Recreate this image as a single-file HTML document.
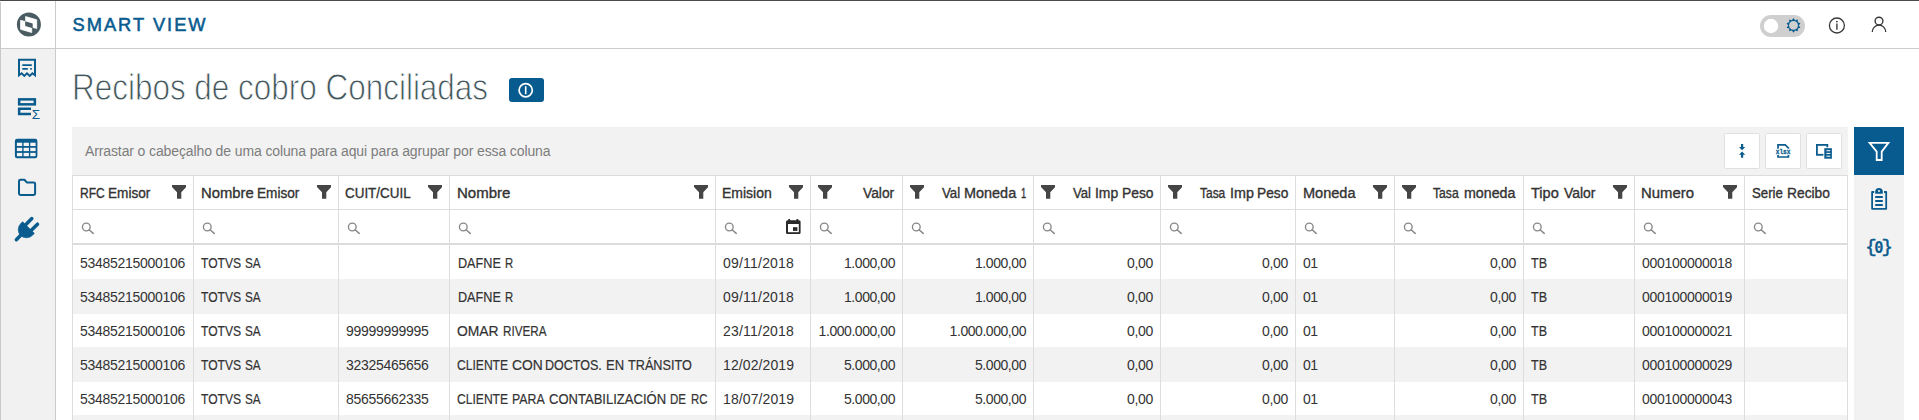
<!DOCTYPE html>
<html lang="pt">
<head>
<meta charset="utf-8">
<title>Smart View</title>
<style>
*{box-sizing:border-box;margin:0;padding:0}
html,body{width:1919px;height:420px;overflow:hidden;background:#fff}
body{position:relative;font-family:"Liberation Sans",sans-serif;color:#333}
.abs{position:absolute}
svg{display:block}
#topline{left:0;top:0;width:1919px;height:1px;background:#484b4b}
#leftline{left:0;top:2px;width:1px;height:418px;background:#c8c8c8}
#side{left:1px;top:49px;width:54px;height:371px;background:#f1f1f1}
#sideborder{left:55px;top:1px;width:1px;height:419px;background:#cbcbcb}
#hdrborder{left:1px;top:48px;width:1918px;height:1px;background:#cbcbcb}
#brand{left:72.5px;top:15.2px;font-size:18.3px;line-height:20px;letter-spacing:2px;color:#075b8f;-webkit-text-stroke:0.55px #075b8f;white-space:nowrap}
#title{left:71.5px;top:67.6px;font-size:36px;line-height:40px;color:#42565c;white-space:nowrap;transform-origin:0 0;transform:scaleX(0.8736);-webkit-text-stroke:0.9px #fff}
#badge{left:509px;top:78px;width:35px;height:24px;border-radius:3px;background:#075b8f}
#grouppanel{left:72px;top:127px;width:1776px;height:48px;background:#f2f2f2}
#grouptext{left:85px;top:143px;font-size:14px;line-height:16px;color:#7d7d7d;white-space:nowrap;letter-spacing:-0.117px}
.tbtn{top:133px;width:36px;height:36px;background:#fff;border:1px solid #e0e0e0;border-radius:1.5px}
#rside{left:1854px;top:127px;width:50px;height:293px;background:#f2f2f2}
#rbtn{left:1854px;top:127px;width:50px;height:48px;background:#075b8f}
#grid{left:72px;top:175px;width:1776px;height:245px;font-size:14px;border-right:1px solid #ddd;overflow:hidden}
.row{position:absolute;left:0;width:1776px}
.hdr{border-top:1px solid #ddd;border-bottom:1px solid #ddd}
.cell{position:absolute;top:0;height:100%;border-left:1px solid #ddd;white-space:nowrap;overflow:hidden;padding:0 7px}
.alt{background:#f2f2f2}
.hdr .cell{line-height:35px;color:#333;-webkit-text-stroke:0.35px #333}
.hr{text-align:right}
.fl{position:absolute;right:7px;top:9.1px}
.fr{position:absolute;left:6.5px;top:9.1px}
.dr .cell{line-height:34px;padding-top:1px}
.dr{color:#333}
.dr .dr{text-align:right}
.w{position:absolute;top:1px;transform-origin:0 50%;white-space:pre;-webkit-text-stroke:0.2px #333}
.hdr .w{-webkit-text-stroke:0.35px #333}
.mg{position:absolute;left:8px;top:12px}
.cal{position:absolute;left:70px;top:8.8px}
</style>
</head>
<body>
<div id="topline" class="abs"></div>
<div id="leftline" class="abs"></div>
<div id="side" class="abs"></div>
<div id="sideborder" class="abs"></div>
<div id="hdrborder" class="abs"></div>
<div id="brand" class="abs">SMART VIEW</div>
<div id="title" class="abs">Recibos de cobro Conciliadas</div>
<div id="badge" class="abs"></div>
<div id="grouppanel" class="abs"></div>
<div id="grouptext" class="abs">Arrastar o cabeçalho de uma coluna para aqui para agrupar por essa coluna</div>
<div class="abs tbtn" style="left:1724px"></div>
<div class="abs tbtn" style="left:1765px"></div>
<div class="abs tbtn" style="left:1806px"></div>
<div id="rside" class="abs"></div>
<div id="rbtn" class="abs"></div>
<div id="grid" class="abs">
<div class="row hdr" style="top:0;height:35px">
<div class="cell hl" style="left:0px;width:121px"><span class="fl"><svg class="fi" viewBox="0 0 14.3 13.7" width="14.3" height="13.7"><path d="M0 0H14.3V2L9.3 7.2V13.7H5V7.2L0 2Z" fill="#454545"/></svg></span><span class="w ht" style="top:0;left:6.73px;transform:scaleX(0.8605)">RFC </span><span class="w ht" style="top:0;left:35.01px;transform:scaleX(0.973)">Emisor</span></div>
<div class="cell hl" style="left:121px;width:145px"><span class="fl"><svg class="fi" viewBox="0 0 14.3 13.7" width="14.3" height="13.7"><path d="M0 0H14.3V2L9.3 7.2V13.7H5V7.2L0 2Z" fill="#454545"/></svg></span><span class="w ht" style="top:0;left:6.62px;transform:scaleX(1.0586)">Nombre </span><span class="w ht" style="top:0;left:63.01px;transform:scaleX(0.973)">Emisor</span></div>
<div class="cell hl" style="left:266px;width:111px"><span class="fl"><svg class="fi" viewBox="0 0 14.3 13.7" width="14.3" height="13.7"><path d="M0 0H14.3V2L9.3 7.2V13.7H5V7.2L0 2Z" fill="#454545"/></svg></span><span class="w ht" style="top:0;left:6.30px;transform:scaleX(0.9586)">CUIT/CUIL</span></div>
<div class="cell hl" style="left:377px;width:266px"><span class="fl"><svg class="fi" viewBox="0 0 14.3 13.7" width="14.3" height="13.7"><path d="M0 0H14.3V2L9.3 7.2V13.7H5V7.2L0 2Z" fill="#454545"/></svg></span><span class="w ht" style="top:0;left:6.60px;transform:scaleX(1.071)">Nombre</span></div>
<div class="cell hl" style="left:643px;width:95px"><span class="fl"><svg class="fi" viewBox="0 0 14.3 13.7" width="14.3" height="13.7"><path d="M0 0H14.3V2L9.3 7.2V13.7H5V7.2L0 2Z" fill="#454545"/></svg></span><span class="w ht" style="top:0;left:6.33px;transform:scaleX(0.9997)">Emision</span></div>
<div class="cell hr" style="left:738px;width:92px"><span class="fr"><svg class="fi" viewBox="0 0 14.3 13.7" width="14.3" height="13.7"><path d="M0 0H14.3V2L9.3 7.2V13.7H5V7.2L0 2Z" fill="#454545"/></svg></span><span class="w ht" style="top:0;left:52.17px;transform:scaleX(0.9865)">Valor</span></div>
<div class="cell hr" style="left:830px;width:131px"><span class="fr"><svg class="fi" viewBox="0 0 14.3 13.7" width="14.3" height="13.7"><path d="M0 0H14.3V2L9.3 7.2V13.7H5V7.2L0 2Z" fill="#454545"/></svg></span><span class="w ht" style="top:0;left:38.67px;transform:scaleX(0.944)">Val </span><span class="w ht" style="top:0;left:60.80px;transform:scaleX(1.0315)">Moneda </span><span class="w ht" style="top:0;left:117.59px;transform:scaleX(0.67)">1</span></div>
<div class="cell hr" style="left:961px;width:127px"><span class="fr"><svg class="fi" viewBox="0 0 14.3 13.7" width="14.3" height="13.7"><path d="M0 0H14.3V2L9.3 7.2V13.7H5V7.2L0 2Z" fill="#454545"/></svg></span><span class="w ht" style="top:0;left:39.08px;transform:scaleX(0.9386)">Val </span><span class="w ht" style="top:0;left:60.69px;transform:scaleX(0.9942)">Imp </span><span class="w ht" style="top:0;left:87.59px;transform:scaleX(0.9885)">Peso</span></div>
<div class="cell hr" style="left:1088px;width:135px"><span class="fr"><svg class="fi" viewBox="0 0 14.3 13.7" width="14.3" height="13.7"><path d="M0 0H14.3V2L9.3 7.2V13.7H5V7.2L0 2Z" fill="#454545"/></svg></span><span class="w ht" style="top:0;left:38.74px;transform:scaleX(0.8542)">Tasa </span><span class="w ht" style="top:0;left:68.66px;transform:scaleX(1.0218)">Imp </span><span class="w ht" style="top:0;left:96.20px;transform:scaleX(0.9802)">Peso</span></div>
<div class="cell hl" style="left:1223px;width:99px"><span class="fl"><svg class="fi" viewBox="0 0 14.3 13.7" width="14.3" height="13.7"><path d="M0 0H14.3V2L9.3 7.2V13.7H5V7.2L0 2Z" fill="#454545"/></svg></span><span class="w ht" style="top:0;left:6.79px;transform:scaleX(1.0386)">Moneda</span></div>
<div class="cell hr" style="left:1322px;width:129px"><span class="fr"><svg class="fi" viewBox="0 0 14.3 13.7" width="14.3" height="13.7"><path d="M0 0H14.3V2L9.3 7.2V13.7H5V7.2L0 2Z" fill="#454545"/></svg></span><span class="w ht" style="top:0;left:38.09px;transform:scaleX(0.8678)">Tasa </span><span class="w ht" style="top:0;left:68.89px;transform:scaleX(1.0169)">moneda</span></div>
<div class="cell hl" style="left:1451px;width:111px"><span class="fl"><svg class="fi" viewBox="0 0 14.3 13.7" width="14.3" height="13.7"><path d="M0 0H14.3V2L9.3 7.2V13.7H5V7.2L0 2Z" fill="#454545"/></svg></span><span class="w ht" style="top:0;left:7.20px;transform:scaleX(1.0375)">Tipo </span><span class="w ht" style="top:0;left:39.67px;transform:scaleX(0.9945)">Valor</span></div>
<div class="cell hl" style="left:1562px;width:110px"><span class="fl"><svg class="fi" viewBox="0 0 14.3 13.7" width="14.3" height="13.7"><path d="M0 0H14.3V2L9.3 7.2V13.7H5V7.2L0 2Z" fill="#454545"/></svg></span><span class="w ht" style="top:0;left:5.91px;transform:scaleX(1.0627)">Numero</span></div>
<div class="cell hl" style="left:1672px;width:103px"><span class="w ht" style="top:0;left:7.26px;transform:scaleX(0.9439)">Serie </span><span class="w ht" style="top:0;left:42.20px;transform:scaleX(0.9853)">Recibo</span></div>
</div>
<div class="row flt" style="top:35px;height:33px">
<div class="cell" style="left:0px;width:121px"><svg class="mg" viewBox="0 0 14 13" width="14" height="13"><circle cx="5.3" cy="5" r="3.85" fill="none" stroke="#878787" stroke-width="1.35"/><path d="M8.1 7.8L12.2 11.4" stroke="#878787" stroke-width="1.45" stroke-linecap="round"/></svg></div>
<div class="cell" style="left:121px;width:145px"><svg class="mg" viewBox="0 0 14 13" width="14" height="13"><circle cx="5.3" cy="5" r="3.85" fill="none" stroke="#878787" stroke-width="1.35"/><path d="M8.1 7.8L12.2 11.4" stroke="#878787" stroke-width="1.45" stroke-linecap="round"/></svg></div>
<div class="cell" style="left:266px;width:111px"><svg class="mg" viewBox="0 0 14 13" width="14" height="13"><circle cx="5.3" cy="5" r="3.85" fill="none" stroke="#878787" stroke-width="1.35"/><path d="M8.1 7.8L12.2 11.4" stroke="#878787" stroke-width="1.45" stroke-linecap="round"/></svg></div>
<div class="cell" style="left:377px;width:266px"><svg class="mg" viewBox="0 0 14 13" width="14" height="13"><circle cx="5.3" cy="5" r="3.85" fill="none" stroke="#878787" stroke-width="1.35"/><path d="M8.1 7.8L12.2 11.4" stroke="#878787" stroke-width="1.45" stroke-linecap="round"/></svg></div>
<div class="cell" style="left:643px;width:95px"><svg class="mg" viewBox="0 0 14 13" width="14" height="13"><circle cx="5.3" cy="5" r="3.85" fill="none" stroke="#878787" stroke-width="1.35"/><path d="M8.1 7.8L12.2 11.4" stroke="#878787" stroke-width="1.45" stroke-linecap="round"/></svg><svg class="cal" viewBox="0 0 15 15" width="15" height="15"><rect x="0" y="1.2" width="14.6" height="13.8" rx="1.6" fill="#2a2a2a"/><rect x="2.3" y="0" width="1.8" height="2" fill="#2a2a2a"/><rect x="10.5" y="0" width="1.8" height="2" fill="#2a2a2a"/><rect x="2" y="5" width="10.8" height="8.2" fill="#fff"/><rect x="7" y="8.2" width="4.4" height="3.7" fill="#2a2a2a"/></svg></div>
<div class="cell" style="left:738px;width:92px"><svg class="mg" viewBox="0 0 14 13" width="14" height="13"><circle cx="5.3" cy="5" r="3.85" fill="none" stroke="#878787" stroke-width="1.35"/><path d="M8.1 7.8L12.2 11.4" stroke="#878787" stroke-width="1.45" stroke-linecap="round"/></svg></div>
<div class="cell" style="left:830px;width:131px"><svg class="mg" viewBox="0 0 14 13" width="14" height="13"><circle cx="5.3" cy="5" r="3.85" fill="none" stroke="#878787" stroke-width="1.35"/><path d="M8.1 7.8L12.2 11.4" stroke="#878787" stroke-width="1.45" stroke-linecap="round"/></svg></div>
<div class="cell" style="left:961px;width:127px"><svg class="mg" viewBox="0 0 14 13" width="14" height="13"><circle cx="5.3" cy="5" r="3.85" fill="none" stroke="#878787" stroke-width="1.35"/><path d="M8.1 7.8L12.2 11.4" stroke="#878787" stroke-width="1.45" stroke-linecap="round"/></svg></div>
<div class="cell" style="left:1088px;width:135px"><svg class="mg" viewBox="0 0 14 13" width="14" height="13"><circle cx="5.3" cy="5" r="3.85" fill="none" stroke="#878787" stroke-width="1.35"/><path d="M8.1 7.8L12.2 11.4" stroke="#878787" stroke-width="1.45" stroke-linecap="round"/></svg></div>
<div class="cell" style="left:1223px;width:99px"><svg class="mg" viewBox="0 0 14 13" width="14" height="13"><circle cx="5.3" cy="5" r="3.85" fill="none" stroke="#878787" stroke-width="1.35"/><path d="M8.1 7.8L12.2 11.4" stroke="#878787" stroke-width="1.45" stroke-linecap="round"/></svg></div>
<div class="cell" style="left:1322px;width:129px"><svg class="mg" viewBox="0 0 14 13" width="14" height="13"><circle cx="5.3" cy="5" r="3.85" fill="none" stroke="#878787" stroke-width="1.35"/><path d="M8.1 7.8L12.2 11.4" stroke="#878787" stroke-width="1.45" stroke-linecap="round"/></svg></div>
<div class="cell" style="left:1451px;width:111px"><svg class="mg" viewBox="0 0 14 13" width="14" height="13"><circle cx="5.3" cy="5" r="3.85" fill="none" stroke="#878787" stroke-width="1.35"/><path d="M8.1 7.8L12.2 11.4" stroke="#878787" stroke-width="1.45" stroke-linecap="round"/></svg></div>
<div class="cell" style="left:1562px;width:110px"><svg class="mg" viewBox="0 0 14 13" width="14" height="13"><circle cx="5.3" cy="5" r="3.85" fill="none" stroke="#878787" stroke-width="1.35"/><path d="M8.1 7.8L12.2 11.4" stroke="#878787" stroke-width="1.45" stroke-linecap="round"/></svg></div>
<div class="cell" style="left:1672px;width:103px"><svg class="mg" viewBox="0 0 14 13" width="14" height="13"><circle cx="5.3" cy="5" r="3.85" fill="none" stroke="#878787" stroke-width="1.35"/><path d="M8.1 7.8L12.2 11.4" stroke="#878787" stroke-width="1.45" stroke-linecap="round"/></svg></div>
</div>
<div class="row" style="top:68px;height:2px;background:#dcdcdc"></div>
<div class="row dr" style="top:70px;height:34px">
<div class="cell dl" style="left:0px;width:121px"><span style="letter-spacing:-0.280px">53485215000106</span></div>
<div class="cell dl" style="left:121px;width:145px"><span class="w" style="left:7.21px;transform:scaleX(0.8628)">TOTVS </span><span class="w" style="left:51.23px;transform:scaleX(0.8358)">SA</span></div>
<div class="cell dl" style="left:266px;width:111px"><span></span></div>
<div class="cell dl" style="left:377px;width:266px"><span class="w" style="left:7.51px;transform:scaleX(0.9024)">DAFNE </span><span class="w" style="left:54.62px;transform:scaleX(0.8088)">R</span></div>
<div class="cell dl" style="left:643px;width:95px"><span style="letter-spacing:0.207px">09/11/2018</span></div>
<div class="cell dr" style="left:738px;width:92px"><span style="letter-spacing:-0.438px">1.000,00</span></div>
<div class="cell dr" style="left:830px;width:131px"><span style="letter-spacing:-0.438px">1.000,00</span></div>
<div class="cell dr" style="left:961px;width:127px"><span style="letter-spacing:-0.338px">0,00</span></div>
<div class="cell dr" style="left:1088px;width:135px"><span style="letter-spacing:-0.338px">0,00</span></div>
<div class="cell dl" style="left:1223px;width:99px"><span style="letter-spacing:-0.589px">01</span></div>
<div class="cell dr" style="left:1322px;width:129px"><span style="letter-spacing:-0.338px">0,00</span></div>
<div class="cell dl" style="left:1451px;width:111px"><span class="w" style="left:6.60px;transform:scaleX(0.8956)">TB</span></div>
<div class="cell dl" style="left:1562px;width:110px"><span style="letter-spacing:-0.286px">000100000018</span></div>
<div class="cell dl" style="left:1672px;width:103px"><span></span></div>
</div>
<div class="row dr alt" style="top:104px;height:35px">
<div class="cell dl" style="left:0px;width:121px"><span style="letter-spacing:-0.280px">53485215000106</span></div>
<div class="cell dl" style="left:121px;width:145px"><span class="w" style="left:7.21px;transform:scaleX(0.8628)">TOTVS </span><span class="w" style="left:51.23px;transform:scaleX(0.8358)">SA</span></div>
<div class="cell dl" style="left:266px;width:111px"><span></span></div>
<div class="cell dl" style="left:377px;width:266px"><span class="w" style="left:7.51px;transform:scaleX(0.9024)">DAFNE </span><span class="w" style="left:54.62px;transform:scaleX(0.8088)">R</span></div>
<div class="cell dl" style="left:643px;width:95px"><span style="letter-spacing:0.207px">09/11/2018</span></div>
<div class="cell dr" style="left:738px;width:92px"><span style="letter-spacing:-0.438px">1.000,00</span></div>
<div class="cell dr" style="left:830px;width:131px"><span style="letter-spacing:-0.438px">1.000,00</span></div>
<div class="cell dr" style="left:961px;width:127px"><span style="letter-spacing:-0.338px">0,00</span></div>
<div class="cell dr" style="left:1088px;width:135px"><span style="letter-spacing:-0.338px">0,00</span></div>
<div class="cell dl" style="left:1223px;width:99px"><span style="letter-spacing:-0.589px">01</span></div>
<div class="cell dr" style="left:1322px;width:129px"><span style="letter-spacing:-0.338px">0,00</span></div>
<div class="cell dl" style="left:1451px;width:111px"><span class="w" style="left:6.60px;transform:scaleX(0.8956)">TB</span></div>
<div class="cell dl" style="left:1562px;width:110px"><span style="letter-spacing:-0.286px">000100000019</span></div>
<div class="cell dl" style="left:1672px;width:103px"><span></span></div>
</div>
<div class="row dr" style="top:138px;height:34px">
<div class="cell dl" style="left:0px;width:121px"><span style="letter-spacing:-0.280px">53485215000106</span></div>
<div class="cell dl" style="left:121px;width:145px"><span class="w" style="left:7.21px;transform:scaleX(0.8628)">TOTVS </span><span class="w" style="left:51.23px;transform:scaleX(0.8358)">SA</span></div>
<div class="cell dl" style="left:266px;width:111px"><span style="letter-spacing:-0.291px">99999999995</span></div>
<div class="cell dl" style="left:377px;width:266px"><span class="w" style="left:7.35px;transform:scaleX(0.9912)">OMAR </span><span class="w" style="left:52.99px;transform:scaleX(0.8337)">RIVERA</span></div>
<div class="cell dl" style="left:643px;width:95px"><span style="letter-spacing:0.207px">23/11/2018</span></div>
<div class="cell dr" style="left:738px;width:92px"><span style="letter-spacing:-0.446px">1.000.000,00</span></div>
<div class="cell dr" style="left:830px;width:131px"><span style="letter-spacing:-0.446px">1.000.000,00</span></div>
<div class="cell dr" style="left:961px;width:127px"><span style="letter-spacing:-0.338px">0,00</span></div>
<div class="cell dr" style="left:1088px;width:135px"><span style="letter-spacing:-0.338px">0,00</span></div>
<div class="cell dl" style="left:1223px;width:99px"><span style="letter-spacing:-0.589px">01</span></div>
<div class="cell dr" style="left:1322px;width:129px"><span style="letter-spacing:-0.338px">0,00</span></div>
<div class="cell dl" style="left:1451px;width:111px"><span class="w" style="left:6.60px;transform:scaleX(0.8956)">TB</span></div>
<div class="cell dl" style="left:1562px;width:110px"><span style="letter-spacing:-0.286px">000100000021</span></div>
<div class="cell dl" style="left:1672px;width:103px"><span></span></div>
</div>
<div class="row dr alt" style="top:172px;height:35px">
<div class="cell dl" style="left:0px;width:121px"><span style="letter-spacing:-0.280px">53485215000106</span></div>
<div class="cell dl" style="left:121px;width:145px"><span class="w" style="left:7.21px;transform:scaleX(0.8628)">TOTVS </span><span class="w" style="left:51.23px;transform:scaleX(0.8358)">SA</span></div>
<div class="cell dl" style="left:266px;width:111px"><span style="letter-spacing:-0.291px">32325465656</span></div>
<div class="cell dl" style="left:377px;width:266px"><span class="w" style="left:7.33px;transform:scaleX(0.8639)">CLIENTE </span><span class="w" style="left:61.75px;transform:scaleX(0.9893)">CON </span><span class="w" style="left:95.02px;transform:scaleX(0.8943)">DOCTOS. </span><span class="w" style="left:155.88px;transform:scaleX(0.9295)">EN </span><span class="w" style="left:177.70px;transform:scaleX(0.9053)">TRÁNSITO</span></div>
<div class="cell dl" style="left:643px;width:95px"><span style="letter-spacing:0.102px">12/02/2019</span></div>
<div class="cell dr" style="left:738px;width:92px"><span style="letter-spacing:-0.438px">5.000,00</span></div>
<div class="cell dr" style="left:830px;width:131px"><span style="letter-spacing:-0.438px">5.000,00</span></div>
<div class="cell dr" style="left:961px;width:127px"><span style="letter-spacing:-0.338px">0,00</span></div>
<div class="cell dr" style="left:1088px;width:135px"><span style="letter-spacing:-0.338px">0,00</span></div>
<div class="cell dl" style="left:1223px;width:99px"><span style="letter-spacing:-0.589px">01</span></div>
<div class="cell dr" style="left:1322px;width:129px"><span style="letter-spacing:-0.338px">0,00</span></div>
<div class="cell dl" style="left:1451px;width:111px"><span class="w" style="left:6.60px;transform:scaleX(0.8956)">TB</span></div>
<div class="cell dl" style="left:1562px;width:110px"><span style="letter-spacing:-0.286px">000100000029</span></div>
<div class="cell dl" style="left:1672px;width:103px"><span></span></div>
</div>
<div class="row dr" style="top:206px;height:34px">
<div class="cell dl" style="left:0px;width:121px"><span style="letter-spacing:-0.280px">53485215000106</span></div>
<div class="cell dl" style="left:121px;width:145px"><span class="w" style="left:7.21px;transform:scaleX(0.8628)">TOTVS </span><span class="w" style="left:51.23px;transform:scaleX(0.8358)">SA</span></div>
<div class="cell dl" style="left:266px;width:111px"><span style="letter-spacing:-0.291px">85655662335</span></div>
<div class="cell dl" style="left:377px;width:266px"><span class="w" style="left:7.33px;transform:scaleX(0.8639)">CLIENTE </span><span class="w" style="left:61.94px;transform:scaleX(0.8819)">PARA </span><span class="w" style="left:98.99px;transform:scaleX(0.931)">CONTABILIZACIÓN </span><span class="w" style="left:220.20px;transform:scaleX(0.8218)">DE </span><span class="w" style="left:241.01px;transform:scaleX(0.8154)">RC</span></div>
<div class="cell dl" style="left:643px;width:95px"><span style="letter-spacing:0.102px">18/07/2019</span></div>
<div class="cell dr" style="left:738px;width:92px"><span style="letter-spacing:-0.438px">5.000,00</span></div>
<div class="cell dr" style="left:830px;width:131px"><span style="letter-spacing:-0.438px">5.000,00</span></div>
<div class="cell dr" style="left:961px;width:127px"><span style="letter-spacing:-0.338px">0,00</span></div>
<div class="cell dr" style="left:1088px;width:135px"><span style="letter-spacing:-0.338px">0,00</span></div>
<div class="cell dl" style="left:1223px;width:99px"><span style="letter-spacing:-0.589px">01</span></div>
<div class="cell dr" style="left:1322px;width:129px"><span style="letter-spacing:-0.338px">0,00</span></div>
<div class="cell dl" style="left:1451px;width:111px"><span class="w" style="left:6.60px;transform:scaleX(0.8956)">TB</span></div>
<div class="cell dl" style="left:1562px;width:110px"><span style="letter-spacing:-0.286px">000100000043</span></div>
<div class="cell dl" style="left:1672px;width:103px"><span></span></div>
</div>
<div class="row dr alt" style="top:240px;height:35px">
<div class="cell dl" style="left:0px;width:121px"><span></span></div>
<div class="cell dl" style="left:121px;width:145px"><span></span></div>
<div class="cell dl" style="left:266px;width:111px"><span></span></div>
<div class="cell dl" style="left:377px;width:266px"><span></span></div>
<div class="cell dl" style="left:643px;width:95px"><span></span></div>
<div class="cell dr" style="left:738px;width:92px"><span></span></div>
<div class="cell dr" style="left:830px;width:131px"><span></span></div>
<div class="cell dr" style="left:961px;width:127px"><span></span></div>
<div class="cell dr" style="left:1088px;width:135px"><span></span></div>
<div class="cell dl" style="left:1223px;width:99px"><span></span></div>
<div class="cell dr" style="left:1322px;width:129px"><span></span></div>
<div class="cell dl" style="left:1451px;width:111px"><span></span></div>
<div class="cell dl" style="left:1562px;width:110px"><span></span></div>
<div class="cell dl" style="left:1672px;width:103px"><span></span></div>
</div>
</div>

<svg id="ov" class="abs" style="left:0;top:0;pointer-events:none" width="1919" height="420" viewBox="0 0 1919 420">
<!-- logo -->
<circle cx="28.9" cy="24.6" r="12" fill="#4a5c62"/>
<path d="M25.6 16.6L36.7 19.8V28.5L25.6 25.3Z" fill="#fff" stroke="#fff" stroke-width="0.8" stroke-linejoin="round"/>
<path d="M20.6 20.3L31.7 23.5V32.5L20.6 29.3Z" fill="#fff" stroke="#fff" stroke-width="0.8" stroke-linejoin="round"/>
<path d="M25.2 21.3L32.7 23.5V28.3L25.2 26.1Z" fill="#4a5c62"/>
<!-- receipt -->
<path d="M19 75.2V59.7H35V75.2L32.4 73.3L29.7 75.9L27 73.3L24.3 75.9L21.6 73.3Z" fill="none" stroke="#0a5c8e" stroke-width="2" stroke-linejoin="miter"/>
<path d="M22.3 65.1H31.8M22.3 68.8H27.8M30.2 68.8H31.8" stroke="#0a5c8e" stroke-width="1.8" fill="none"/>
<!-- rows sigma -->
<rect x="19.15" y="99.35" width="15.7" height="5" fill="none" stroke="#0a5c8e" stroke-width="2.5"/>
<path d="M31 108.85H19.15V114.05H31" fill="none" stroke="#0a5c8e" stroke-width="2.5"/>
<text x="31.8" y="119" font-family="Liberation Sans, sans-serif" font-size="13.5" fill="#0a5c8e">Σ</text>
<!-- table -->
<rect x="14.9" y="138.8" width="22.5" height="19.5" rx="2.2" fill="#0a5c8e"/>
<g fill="#f4f4f4">
<rect x="16.9" y="142.7" width="5.3" height="3.3"/><rect x="23.6" y="142.7" width="5.3" height="3.3"/><rect x="30.3" y="142.7" width="5.3" height="3.3"/>
<rect x="16.9" y="147.8" width="5.3" height="3.3"/><rect x="23.6" y="147.8" width="5.3" height="3.3"/><rect x="30.3" y="147.8" width="5.3" height="3.3"/>
<rect x="16.9" y="152.9" width="5.3" height="3.3"/><rect x="23.6" y="152.9" width="5.3" height="3.3"/><rect x="30.3" y="152.9" width="5.3" height="3.3"/>
</g>
<!-- folder -->
<path d="M19 181.2Q19 179.8 20.4 179.8H24.4L26.8 182.4H33.7Q35.1 182.4 35.1 183.8V193.5Q35.1 194.9 33.7 194.9H20.4Q19 194.9 19 193.5Z" fill="none" stroke="#0a5c8e" stroke-width="2" stroke-linejoin="round"/>
<!-- plug -->
<g transform="translate(28.5 227.5) rotate(45)" fill="#0a5c8e" stroke="#0a5c8e">
<path d="M-8.3 0H8.3V2.6A8.3 8.6 0 0 1 -8.3 2.6Z" stroke-width="0.6" stroke-linejoin="round"/>
<path d="M-4 0V-8.7M4 0V-8.7M0 10V17.2" stroke-width="3.5" stroke-linecap="round" fill="none"/>
</g>
<!-- toggle -->
<rect x="1760" y="15" width="45" height="22" rx="11" fill="#cfcfcf"/>
<circle cx="1771" cy="26" r="7.2" fill="#fff"/>
<path d="M1793.50 18.10L1795.14 20.36L1797.79 19.49L1797.79 22.28L1800.44 23.14L1798.80 25.40L1800.44 27.66L1797.79 28.52L1797.79 31.31L1795.14 30.44L1793.50 32.70L1791.86 30.44L1789.21 31.31L1789.21 28.52L1786.56 27.66L1788.20 25.40L1786.56 23.14L1789.21 22.28L1789.21 19.49L1791.86 20.36ZM1789.05 25.4a4.45 4.45 0 1 0 8.9 0a4.45 4.45 0 1 0 -8.9 0Z" fill="#0a5c8e" fill-rule="evenodd"/>
<!-- info -->
<circle cx="1836.9" cy="25.5" r="7.5" fill="none" stroke="#3a3a3a" stroke-width="1.3"/>
<path d="M1836.9 23.6V29.7" stroke="#3a3a3a" stroke-width="1.4" fill="none"/>
<circle cx="1836.9" cy="21.6" r="0.9" fill="#3a3a3a"/>
<!-- user -->
<circle cx="1879" cy="21.1" r="3.9" fill="none" stroke="#3a3a3a" stroke-width="1.4"/>
<path d="M1872.3 32A6.7 6.9 0 0 1 1885.7 32" fill="none" stroke="#3a3a3a" stroke-width="1.4"/>
<!-- badge icon -->
<circle cx="525.7" cy="90.2" r="6.6" fill="none" stroke="#fff" stroke-width="1.7"/>
<path d="M525.7 86.2V94.2" stroke="#fff" stroke-width="1.6"/>
<!-- toolbar arrows -->
<g fill="#0a5c8e">
<path d="M1741 144H1743.2V147H1745.2L1742.1 150.2L1739 147H1741Z"/>
<path d="M1741 157.8H1743.2V154.8H1745.2L1742.1 151.6L1739 154.8H1741Z"/>
</g>
<!-- xlsx -->
<path d="M1778 148.7V144.8H1785.2L1788.4 148V148.7M1778 155V157H1788.4V155" fill="none" stroke="#0a5c8e" stroke-width="1.7"/>
<text transform="translate(1783.1 154.2) scale(0.8 1)" x="0" y="0" text-anchor="middle" font-family="Liberation Mono, monospace" font-size="7.6" font-weight="bold" fill="#0a5c8e" stroke="#0a5c8e" stroke-width="0.3">xlsx</text>
<!-- column chooser -->
<rect x="1816.9" y="144.9" width="10.4" height="9.9" fill="none" stroke="#0a5c8e" stroke-width="1.8"/>
<rect x="1823.4" y="147.3" width="9.3" height="12.2" fill="#fff"/>
<rect x="1824.3" y="148.2" width="7.6" height="10.5" fill="#0a5c8e"/>
<path d="M1826.4 150.7H1830.3M1826.4 153.4H1830.3M1826.4 156.2H1830.3" stroke="#fff" stroke-width="1"/>
<!-- right: funnel -->
<path d="M1869.6 142.9H1888.4L1881.7 151.6V160H1876.7V151.6Z" fill="none" stroke="#fff" stroke-width="1.8" stroke-linejoin="miter"/>
<!-- clipboard -->
<path d="M1874.2 192H1872.1V208.8H1886.2V192H1884" fill="none" stroke="#0a5c8e" stroke-width="1.8" stroke-linejoin="round"/>
<path d="M1875.2 193.8V191.8A3.8 3.8 0 0 1 1882.8 191.8V193.8Z" fill="#0a5c8e"/>
<circle cx="1879" cy="190.9" r="1" fill="#f2f2f2"/>
<path d="M1875.2 197H1882.8M1875.2 201H1882.8M1875.2 205H1882.8" stroke="#0a5c8e" stroke-width="1.8"/>
<g font-family="Liberation Mono, monospace" fill="#0a5c8e" stroke="#0a5c8e" stroke-width="0.55" text-anchor="middle"><text x="1870.9" y="252.3" font-size="19">{</text><text x="1879" y="253" font-size="15.4" font-weight="bold" font-family="DejaVu Sans Mono, Liberation Mono, monospace" stroke-width="0">0</text><text x="1887.1" y="252.3" font-size="19">}</text></g>
</svg>
</body>
</html>
